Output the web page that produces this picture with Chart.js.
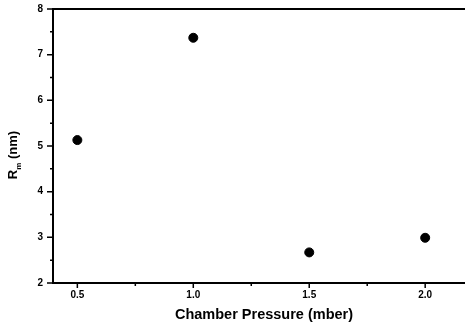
<!DOCTYPE html>
<html>
<head>
<meta charset="utf-8">
<script src="https://cdn.jsdelivr.net/npm/chart.js@4"></script>
<style>
  html, body { margin: 0; padding: 0; background: #fff; overflow: hidden; }
  #wrap { width: 465px; height: 324px; position: relative; }
</style>
</head>
<body>
<div id="wrap"><canvas id="ch"></canvas></div>
<script>
// values
const pressure = [0.5, 1.0, 1.5, 2.0];        // mbar
const radius   = [5.13, 7.37, 2.67, 2.99];    // R_m (nm)
const xTicks   = [0.5, 1.0, 1.5, 2.0];
const xMinor   = [0.75, 1.25, 1.75];
const yTicks   = [2, 3, 4, 5, 6, 7, 8];
const yMinor   = [2.5, 3.5, 4.5, 5.5, 6.5, 7.5];
const xTitle   = 'Chamber Pressure (mber)';

const FONT = '"Liberation Sans", Arial, sans-serif';

// axes, tick marks and titles drawn by hand so they look like the scanned plot
const frame = {
  id: 'frame',
  afterDraw(chart) {
    const { ctx, chartArea: a, scales: { x, y } } = chart;
    const right = chart.width; // the plot runs off the right edge of the scan
    ctx.save();
    ctx.strokeStyle = '#000';
    ctx.lineWidth = 2;
    ctx.beginPath();
    ctx.moveTo(a.left, a.top); ctx.lineTo(right, a.top);
    ctx.moveTo(a.left, a.top - 1); ctx.lineTo(a.left, a.bottom);
    ctx.moveTo(a.left - 1, a.bottom); ctx.lineTo(right, a.bottom);
    ctx.stroke();

    ctx.lineWidth = 1.5;
    ctx.beginPath();
    xTicks.forEach(v => { const px = x.getPixelForValue(v); ctx.moveTo(px, a.bottom); ctx.lineTo(px, a.bottom + 5); });
    xMinor.forEach(v => { const px = x.getPixelForValue(v); ctx.moveTo(px, a.bottom); ctx.lineTo(px, a.bottom + 3); });
    yTicks.forEach(v => { const py = y.getPixelForValue(v); ctx.moveTo(a.left, py); ctx.lineTo(a.left - 6, py); });
    yMinor.forEach(v => { const py = y.getPixelForValue(v); ctx.moveTo(a.left, py); ctx.lineTo(a.left - 3, py); });
    ctx.stroke();

    ctx.fillStyle = '#000';
    ctx.font = 'bold 14.5px ' + FONT;
    ctx.textAlign = 'center';
    ctx.textBaseline = 'middle';
    ctx.fillText(xTitle, 264, 315);

    // rotated y title with subscript
    ctx.translate(17, 155);
    ctx.rotate(-Math.PI / 2);
    ctx.textAlign = 'left';
    ctx.textBaseline = 'alphabetic';
    const r = 'R', m = 'm', nm = ' (nm)';
    ctx.font = 'bold 13px ' + FONT;
    const wR = ctx.measureText(r).width;
    ctx.font = 'bold 8px ' + FONT;
    const wM = ctx.measureText(m).width;
    ctx.font = 'bold 13px ' + FONT;
    const wN = ctx.measureText(nm).width;
    let sx = -(wR + wM + wN) / 2;
    ctx.fillText(r, sx, 0);
    ctx.font = 'bold 8px ' + FONT;
    ctx.fillText(m, sx + wR, 4);
    ctx.font = 'bold 13px ' + FONT;
    ctx.fillText(nm, sx + wR + wM, 0);
    ctx.restore();
  }
};

new Chart(document.getElementById('ch'), {
  type: 'scatter',
  data: {
    datasets: [{
      data: pressure.map((p, i) => ({ x: p, y: radius[i] })),
      backgroundColor: '#000',
      borderColor: '#000',
      pointRadius: 4.5,
      pointHoverRadius: 4.5,
      clip: false
    }]
  },
  options: {
    responsive: true,
    maintainAspectRatio: false,
    animation: false,
    layout: { padding: { top: 9, right: 0, left: 0, bottom: 0 } },
    plugins: { legend: { display: false }, tooltip: { enabled: false } },
    scales: {
      x: {
        type: 'linear', min: 0.395, max: 2.148,
        afterBuildTicks: s => { s.ticks = xTicks.map(v => ({ value: v })); },
        afterFit: s => { s.height = 41; s.paddingLeft = 0; s.paddingRight = 0; },
        grid: { display: false, drawTicks: false },
        border: { display: false },
        ticks: {
          padding: 6, color: '#000',
          font: { family: FONT, size: 10, weight: 'bold' },
          callback: v => v.toFixed(1)
        }
      },
      y: {
        min: 2, max: 8,
        afterBuildTicks: s => { s.ticks = yTicks.map(v => ({ value: v })); },
        afterFit: s => { s.width = 53; s.paddingTop = 0; s.paddingBottom = 0; },
        grid: { display: false, drawTicks: false },
        border: { display: false },
        ticks: {
          padding: 10, color: '#000',
          font: { family: FONT, size: 10, weight: 'bold' }
        }
      }
    }
  },
  plugins: [frame]
});
</script>
</body>
</html>
